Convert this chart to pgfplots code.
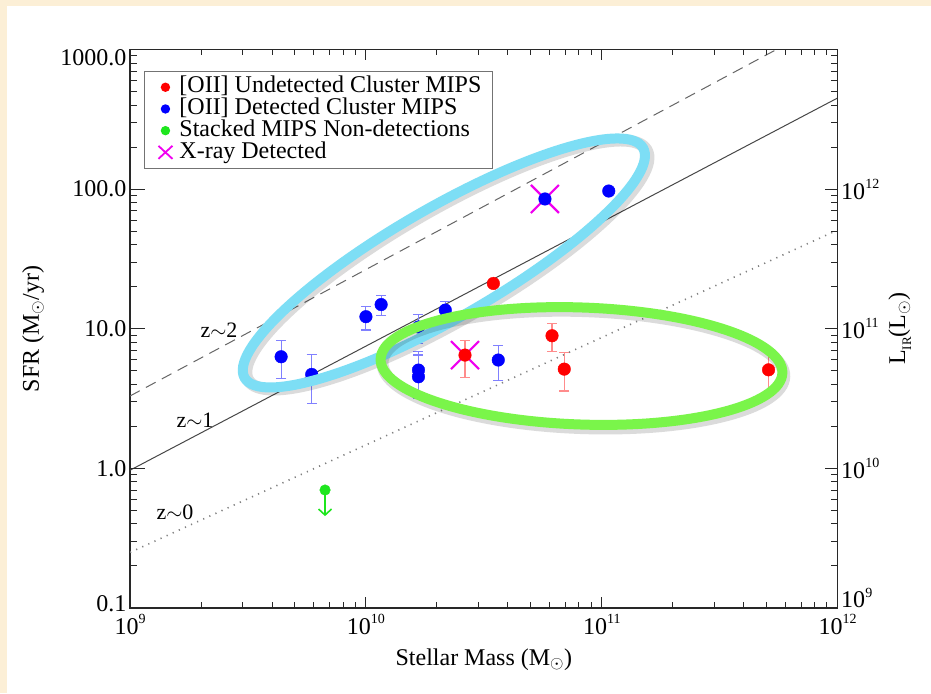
\documentclass[border=0pt]{standalone}
\usepackage{fontspec}
\setmainfont{Liberation Serif}
\usepackage{pgfplots}
\pgfplotsset{compat=1.18}
\usetikzlibrary{arrows.meta}
\definecolor{cream}{RGB}{252,239,214}
\definecolor{ecyan}{RGB}{125,222,245}
\definecolor{egreen}{RGB}{122,245,74}
\definecolor{xmag}{RGB}{240,0,240}
\definecolor{dgreen}{RGB}{30,230,30}
\definecolor{axc}{RGB}{40,40,40}
\newcommand{\ep}[1]{\raisebox{0.45em}{\fontsize{14}{14}\selectfont #1}}
\newcommand{\bigf}{\fontsize{24}{28}\selectfont}

\pgfplotstableread{
x y ep em
3.47e10 21.1 0 0
2.63e10 6.48 1.82 2.00
6.15e10 8.91 1.99 2.07
6.93e10 5.14 1.59 1.56
5.09e11 5.08 1.73 1.73
}\redpts

\pgfplotstableread{
x y ep em
4.37e9 6.30 1.90 1.92
5.89e9 4.71 1.80 1.79
1.00e10 12.2 2.2 2.41
1.16e10 14.9 2.3 2.4
1.67e10 10.3 2.4 2.5
1.67e10 5.06 1.86 1.89
1.67e10 4.53 1.96 1.36
2.17e10 13.6 2.1 2.2
3.64e10 5.97 1.58 1.73
5.74e10 85.0 0 0
1.07e11 96.9 0 0
}\bluepts

\begin{document}
\begin{tikzpicture}
\fill[cream] (0pt,0pt) rectangle (931pt,693pt);
\fill[white] (7pt,0pt) rectangle (931pt,687pt);
\begin{axis}[
  at={(130pt,85pt)}, anchor=south west, scale only axis,
  width=707.7pt, height=558.5pt,
  xmode=log, ymode=log, xmin=1e9, xmax=1e12, ymin=0.1, ymax=1000,
  xtick={1e9,1e10,1e11,1e12},
  xticklabels={10\ep{9},10\ep{10},10\ep{11},10\ep{12}},
  ytick={0.1,1,10,100,1000},
  yticklabels={\smash{\raisebox{-3pt}{0.1}},1.0,10.0,100.0,\smash{\raisebox{-16pt}{1000.0}}},
  ytick pos=left, xticklabel pos=lower,
  tick style={draw=none},
  axis line style={draw=axc, line width=1.2pt},
  ticklabel style={font=\bigf},
  xticklabel style={yshift=-3pt},
  xlabel={Stellar Mass (M$_\odot$)},
  xlabel style={font=\bigf, at={(axis description cs:0.5,0)}, anchor=base, yshift=-57pt},
  ylabel={SFR (M$_\odot$/yr)},
  ylabel style={font=\bigf, at={(axis description cs:0,0.5)}, anchor=center, yshift=97pt},
  legend style={at={(0.0198,0.9615)}, anchor=north west, draw=black!55, line width=0.8pt,
    fill=white, font=\bigf, inner xsep=11pt, inner ysep=5pt, row sep=0pt, column sep=7pt,
    nodes={inner sep=0pt, text height=16.5pt, text depth=5.2pt}},
  legend cell align=left,
  clip marker paths=true,
]
% reference relations
\addplot[forget plot, black!60, line width=1pt, dash pattern=on 11pt off 7pt] coordinates {(1e9,3.3) (5.5e11,1000)};
\addplot[forget plot, black!72, line width=1pt, solid] coordinates {(1e9,0.97) (1e12,450)};
\addplot[forget plot, black!50, line width=1.6pt, dash pattern=on 1.2pt off 5.5pt] coordinates {(1e9,0.25) (1e12,51)};
% X-ray crosses (behind dots)
\addplot[forget plot, only marks, solid, mark=x, mark size=19.8pt, xmag, mark options={solid, line width=2.2pt}] coordinates {(5.74e10,85.0) (2.63e10,6.48)};
% red
\addplot[only marks, mark=*, mark size=6.3pt, color=red, mark options={fill=red, draw=red},
  error bars/.cd, y dir=both, y explicit,
  error bar style={red!45, line width=1.1pt},
  error mark options={rotate=90, red!45, mark size=5pt, line width=1.1pt},
  /pgfplots/legend image code/.code={\path[use as bounding box, draw=none] (0pt,-3pt) rectangle (17pt,3pt); \fill[red, draw=none] (10pt,0pt) circle (4.7pt);}]
  table[x=x, y=y, y error plus=ep, y error minus=em] {\redpts};
\addlegendentry{[OII] Undetected Cluster MIPS}
% blue
\addplot[only marks, mark=*, mark size=6.3pt, color=blue, mark options={fill=blue, draw=blue},
  error bars/.cd, y dir=both, y explicit,
  error bar style={blue!50, line width=1.1pt},
  error mark options={rotate=90, blue!50, mark size=5pt, line width=1.1pt},
  /pgfplots/legend image code/.code={\path[use as bounding box, draw=none] (0pt,-3pt) rectangle (17pt,3pt); \fill[blue, draw=none] (10pt,0pt) circle (4.7pt);}]
  table[x=x, y=y, y error plus=ep, y error minus=em] {\bluepts};
\addlegendentry{[OII] Detected Cluster MIPS}
% green stacked upper limit
\addplot[forget plot, solid, dgreen, line width=1.6pt, -{Straight Barb[length=6pt, width=13pt, line width=1.6pt]}] coordinates {(6.71e9,0.70) (6.71e9,0.455)};
\addplot[only marks, mark=*, mark size=5.3pt, color=dgreen, mark options={fill=dgreen, draw=dgreen},
  legend image code/.code={\path[use as bounding box, draw=none] (0pt,-3pt) rectangle (17pt,3pt); \fill[dgreen, draw=none] (10pt,0pt) circle (4.7pt);}]
  coordinates {(6.71e9,0.70)};
\addlegendentry{Stacked MIPS Non-detections}
\addlegendimage{legend image code/.code={\path[use as bounding box, draw=none] (0pt,-3pt) rectangle (17pt,3pt); \draw[xmag, solid, line width=1.8pt] (3pt,-6.5pt) -- (17pt,6.5pt) (3pt,6.5pt) -- (17pt,-6.5pt);}}
\addlegendentry{X-ray Detected}
% highlight ellipses
\begin{scope}[shift={(axis cs:2.14e10,29.6)}, rotate=30]
  \draw[black, solid, opacity=0.14, line width=12pt] (2pt,-3.5pt) ellipse [x radius=230pt, y radius=55pt];
  \draw[ecyan, solid, line width=10pt] (0pt,0pt) ellipse [x radius=230pt, y radius=55pt];
\end{scope}
\begin{scope}[shift={(axis cs:8.2e10,5.41)}, rotate=-2]
  \draw[black, solid, opacity=0.14, line width=12pt] (2pt,-3.5pt) ellipse [x radius=201pt, y radius=58.5pt];
  \draw[egreen, solid, line width=10pt] (0pt,0pt) ellipse [x radius=201pt, y radius=58.5pt];
\end{scope}
\end{axis}
\begin{axis}[
  at={(130pt,85pt)}, anchor=south west, scale only axis,
  width=707.7pt, height=558.5pt,
  xmin=0, xmax=1, ymode=log, ymin=1e9, ymax=1e13,
  axis x line=none, axis y line*=right,
  ytick={1e9,1e10,1e11,1e12},
  yticklabels={\smash{10\ep{9}},10\ep{10},10\ep{11},10\ep{12}},
  tick style={draw=none},
  axis line style={draw=axc, line width=1.2pt, solid, -},
  ticklabel style={font=\bigf},
  ylabel={L\raisebox{-0.25em}{\fontsize{13}{13}\selectfont IR}(L$_\odot$)},
  ylabel style={font=\bigf, at={(axis description cs:1,0.5)}, anchor=center, yshift=-62pt},
]
\addplot[draw=none, forget plot] coordinates {(0.5,1e10)};
\end{axis}
% inward tick marks on the axis frame (x: 235.9pt per decade, y: 139.625pt per decade)
\foreach \d in {0,1,2,3}{
  \pgfmathsetmacro{\xx}{130+235.9*\d}
  \draw[axc, line width=1pt] (\xx pt,85pt) -- (\xx pt,96pt);
  \draw[axc, line width=1pt] (\xx pt,643.5pt) -- (\xx pt,632.5pt);
}
\foreach \d in {0,1,2}{
  \foreach \m in {2,...,9}{
    \pgfmathsetmacro{\xx}{130+235.9*(\d+log10(\m))}
    \draw[axc, line width=1pt] (\xx pt,85pt) -- (\xx pt,91pt);
    \draw[axc, line width=1pt] (\xx pt,643.5pt) -- (\xx pt,637.5pt);
  }
}
\foreach \d in {0,1,2,3,4}{
  \pgfmathsetmacro{\yy}{85+139.625*\d}
  \draw[axc, line width=1pt] (130pt,\yy pt) -- (145pt,\yy pt);
  \draw[axc, line width=1pt] (837.7pt,\yy pt) -- (824.7pt,\yy pt);
}
\foreach \d in {0,1,2,3}{
  \foreach \m in {2,...,9}{
    \pgfmathsetmacro{\yy}{85+139.625*(\d+log10(\m))}
    \draw[axc, line width=1pt] (130pt,\yy pt) -- (137pt,\yy pt);
    \draw[axc, line width=1pt] (837.7pt,\yy pt) -- (830.7pt,\yy pt);
  }
}
\node[font=\fontsize{22}{24}\selectfont] at (219pt,363pt) {z$\sim$2};
\node[font=\fontsize{22}{24}\selectfont] at (195pt,273pt) {z$\sim$1};
\node[font=\fontsize{22}{24}\selectfont] at (175pt,181pt) {z$\sim$0};
\end{tikzpicture}
\end{document}
